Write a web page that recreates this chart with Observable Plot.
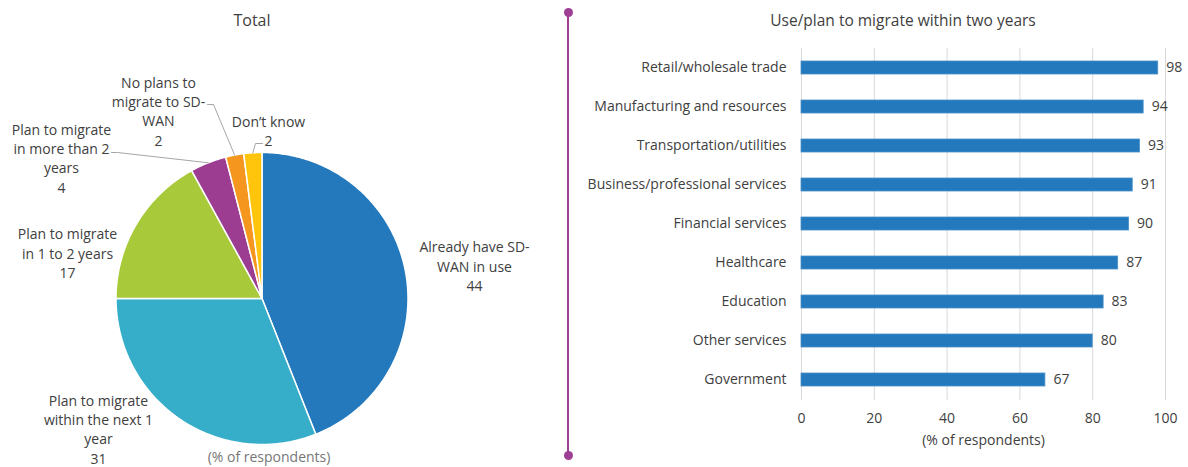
<!DOCTYPE html>
<html><head><meta charset="utf-8">
<script src="https://cdn.jsdelivr.net/npm/d3@7"></script>
<script src="https://cdn.jsdelivr.net/npm/@observablehq/plot@0.6"></script>
<style>
html,body{margin:0;padding:0;background:#fff;}
#wrap{position:relative;width:1188px;height:467px;overflow:hidden;font-family:"Open Sans",sans-serif;color:#404040;}
.abs{position:absolute;}
.title{position:absolute;width:400px;text-align:center;line-height:22px;white-space:nowrap;color:#404040;}
.divline{position:absolute;left:567px;top:13px;width:2px;height:442px;background:#9e3f94;}
.dot{position:absolute;width:9px;height:9px;border-radius:50%;background:#9e3f94;}
</style></head><body>
<div id="wrap"></div>
<script>
// ---- data ----
const pieCategories = ["Already have SD-WAN in use", "Plan to migrate within the next 1 year", "Plan to migrate in 1 to 2 years", "Plan to migrate in more than 2 years", "No plans to migrate to SD-WAN", "Don’t know"];
const pieLabelText = ["Already have SD-\nWAN in use", "Plan to migrate\nwithin the next 1\nyear", "Plan to migrate\nin 1 to 2 years", "Plan to migrate\nin more than 2\nyears", "No plans to\nmigrate to SD-\nWAN", "Don’t know"];
const pieValues = [44, 31, 17, 4, 2, 2];
const pieColors = ["#2479bd", "#37aec9", "#a8c93a", "#9c3d92", "#f5961f", "#ffc50c"];

const barCategories = ["Retail/wholesale trade", "Manufacturing and resources", "Transportation/utilities", "Business/professional services", "Financial services", "Healthcare", "Education", "Other services", "Government"];
const barValues = [98, 94, 93, 91, 90, 87, 83, 80, 67];
const xTicks = [0, 20, 40, 60, 80, 100];

// ---- layout (pixels) ----
const PW = 560, PH = 467, CX = 261.5, CY = 298, R = 146;
const FS = 14;
const labelPos = [[474, 265], [98, 428], [67, 252], [61, 157], [158, 110], [268, 129.5]];
const leaderPts = {3: [[117, 152], [111, 152]], 4: [[213, 104], [207, 104]], 5: [[255, 143], [262, 143]]};

const wrap = document.getElementById("wrap");
const TEXT = "#404040";

// ---- pie ----
const arcs = d3.pie().sort(null).value(d => d)(pieValues);
const slicePts = [];
arcs.forEach((a, i) => {
  const key = pieCategories[i];
  slicePts.push({key, x: CX, y: CY});
  const n = Math.max(4, Math.ceil((a.endAngle - a.startAngle) / 0.01));
  for (let k = 0; k <= n; k++) {
    const t = a.startAngle + (a.endAngle - a.startAngle) * k / n;
    slicePts.push({key, x: CX + R * Math.sin(t), y: CY - R * Math.cos(t)});
  }
  slicePts.push({key, x: CX, y: CY});
});
const leaders = [];
Object.entries(leaderPts).forEach(([i, pts]) => {
  const a = arcs[+i];
  const m = (a.startAngle + a.endAngle) / 2;
  leaders.push({k: i, x: CX + R * Math.sin(m), y: CY - R * Math.cos(m)});
  pts.forEach(p => leaders.push({k: i, x: p[0], y: p[1]}));
});
const pieLabelData = pieCategories.map((c, i) => ({
  x: labelPos[i][0], y: labelPos[i][1], text: pieLabelText[i] + "\n" + pieValues[i]
}));

const pie = Plot.plot({
  width: PW, height: PH,
  margin: 0,
  x: {domain: [0, PW], range: [0, PW], axis: null},
  y: {domain: [0, PH], range: [0, PH], axis: null},
  color: {domain: pieCategories, range: pieColors},
  style: {fontFamily: "'Open Sans', sans-serif", fontSize: FS + "px", color: TEXT, background: "transparent", overflow: "visible"},
  marks: [
    Plot.line(slicePts, {x: "x", y: "y", z: "key", fill: "key", stroke: "white", strokeWidth: 1.5, strokeLinejoin: "round"}),
    Plot.line(leaders, {x: "x", y: "y", z: "k", stroke: "#a6a6a6", strokeWidth: 1}),
    Plot.text(pieLabelData, {x: "x", y: "y", text: "text", fill: TEXT, fontSize: FS, lineHeight: 1.38, lineAnchor: "middle"}),
    Plot.text(["(% of respondents)"], {x: () => 268.5, y: () => 457, text: d => d, fill: "#767676", fontSize: FS})
  ]
});
pie.classList.add("abs");
pie.style.left = "0px"; pie.style.top = "0px";
wrap.appendChild(pie);

// ---- bars ----
const barData = barCategories.map((c, i) => ({cat: c, value: barValues[i]}));
const bars = Plot.plot({
  width: 618, height: 467,
  marginLeft: 231, marginRight: 23, marginTop: 48, marginBottom: 67,
  x: {domain: [0, 100]},
  y: {domain: barCategories, paddingInner: 0.655, paddingOuter: 0.3275},
  style: {fontFamily: "'Open Sans', sans-serif", fontSize: FS + "px", color: TEXT, background: "transparent", overflow: "visible"},
  marks: [
    Plot.gridX(xTicks, {stroke: "#d9d9d9", strokeOpacity: 1, strokeWidth: 1}),
    Plot.barX(barData, {x: "value", y: "cat", fill: "#2479bd", stroke: "#4a90c9", strokeWidth: 0.8}),
    Plot.text(barData, {x: "value", y: "cat", text: d => String(d.value), dx: 8, textAnchor: "start", fill: TEXT, fontSize: FS}),
    Plot.axisY({tickSize: 0, tickPadding: 15, label: null, fontSize: FS, fill: TEXT}),
    Plot.axisX(xTicks, {tickSize: 0, tickPadding: 13, label: null, fontSize: FS, fill: TEXT}),
    Plot.text(["(% of respondents)"], {frameAnchor: "bottom", dy: 44, text: d => d, fill: TEXT, fontSize: FS})
  ]
});
bars.classList.add("abs");
bars.style.left = "570px"; bars.style.top = "0px";
wrap.appendChild(bars);

// ---- titles & divider ----
function addTitle(text, cx, size) {
  const d = document.createElement("div");
  d.className = "title"; d.textContent = text;
  d.style.fontSize = size + "px";
  d.style.left = (cx - 200) + "px"; d.style.top = "9px";
  wrap.appendChild(d);
}
addTitle("Total", 252, 16);
addTitle("Use/plan to migrate within two years", 903, 15.5);
const dl = document.createElement("div"); dl.className = "divline"; wrap.appendChild(dl);
[12.5, 455].forEach(y => {
  const d = document.createElement("div"); d.className = "dot";
  d.style.left = (568 - 4.5) + "px"; d.style.top = (y - 4.5) + "px";
  wrap.appendChild(d);
});
</script>
</body></html>
